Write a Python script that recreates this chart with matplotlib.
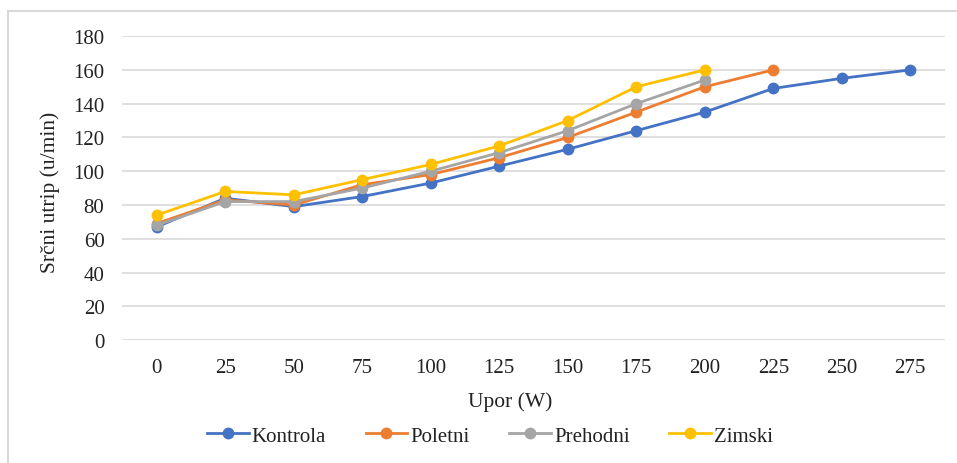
import numpy as np
import matplotlib
matplotlib.use("Agg")
import matplotlib.pyplot as plt
from matplotlib.patches import Rectangle

plt.rcParams["font.family"] = ["Liberation Serif", "DejaVu Serif"]

upor = ["0", "25", "50", "75", "100", "125", "150", "175", "200", "225", "250", "275"]
kontrola = [67, 84, 79, 85, 93, 103, 113, 124, 135, 149, 155, 160]
poletni = [69, 83, 80, 92, 98, 108, 120, 135, 150, 160]
prehodni = [68, 82, 82, 90, 100, 111, 124, 140, 154]
zimski = [74, 88, 86, 95, 104, 115, 130, 150, 160]

series = [("Kontrola", kontrola, "#4472C4"),
          ("Poletni", poletni, "#ED7D31"),
          ("Prehodni", prehodni, "#A5A5A5"),
          ("Zimski", zimski, "#FFC000")]

fig = plt.figure(figsize=(9.57, 4.64), dpi=100)
ax = fig.add_axes([0.128, 0.265, 0.859, 0.655])

for name, vals, col in series:
    x = np.arange(len(vals))
    ax.plot(x, vals, "-o", color=col, label=name, linewidth=2.0,
            markersize=7.5, zorder=3)

ax.set_xlim(-0.5, len(upor) - 0.5)
ax.set_ylim(0, 180)
ax.set_yticks(np.arange(0, 181, 20))
ax.set_xticks(np.arange(len(upor)))
ax.set_xticklabels(upor)
ax.grid(axis="y", color="#d9d9d9", linewidth=1.2, zorder=0)
for s in ax.spines.values():
    s.set_visible(False)
ax.tick_params(axis="both", length=0, labelsize=15, colors="#222222")
ax.tick_params(axis="x", pad=13)
ax.tick_params(axis="y", pad=13)

# axis titles placed in figure pixels
fig.text(0.533, 1 - 402 / 464, "Upor (W)", ha="center", va="center",
         fontsize=15.5, color="#222222")
fig.text(50 / 957, 1 - 192 / 464, "Srčni utrip (u/min)", ha="center", va="center",
         rotation=90, fontsize=15.5, color="#222222")

fig.legend(loc="center", bbox_to_anchor=(0.512, 1 - 437 / 464), ncol=4, frameon=False,
           fontsize=15, handlelength=2.0, columnspacing=1.9, handletextpad=0.15,
           labelcolor="#222222")

fig.patches.append(Rectangle((8 / 957, -0.05), 1.0, 1 - 12 / 464 + 0.05,
                             transform=fig.transFigure, fill=False,
                             edgecolor="#d9d9d9", linewidth=1.5))

fig.savefig("out.png", dpi=100)
